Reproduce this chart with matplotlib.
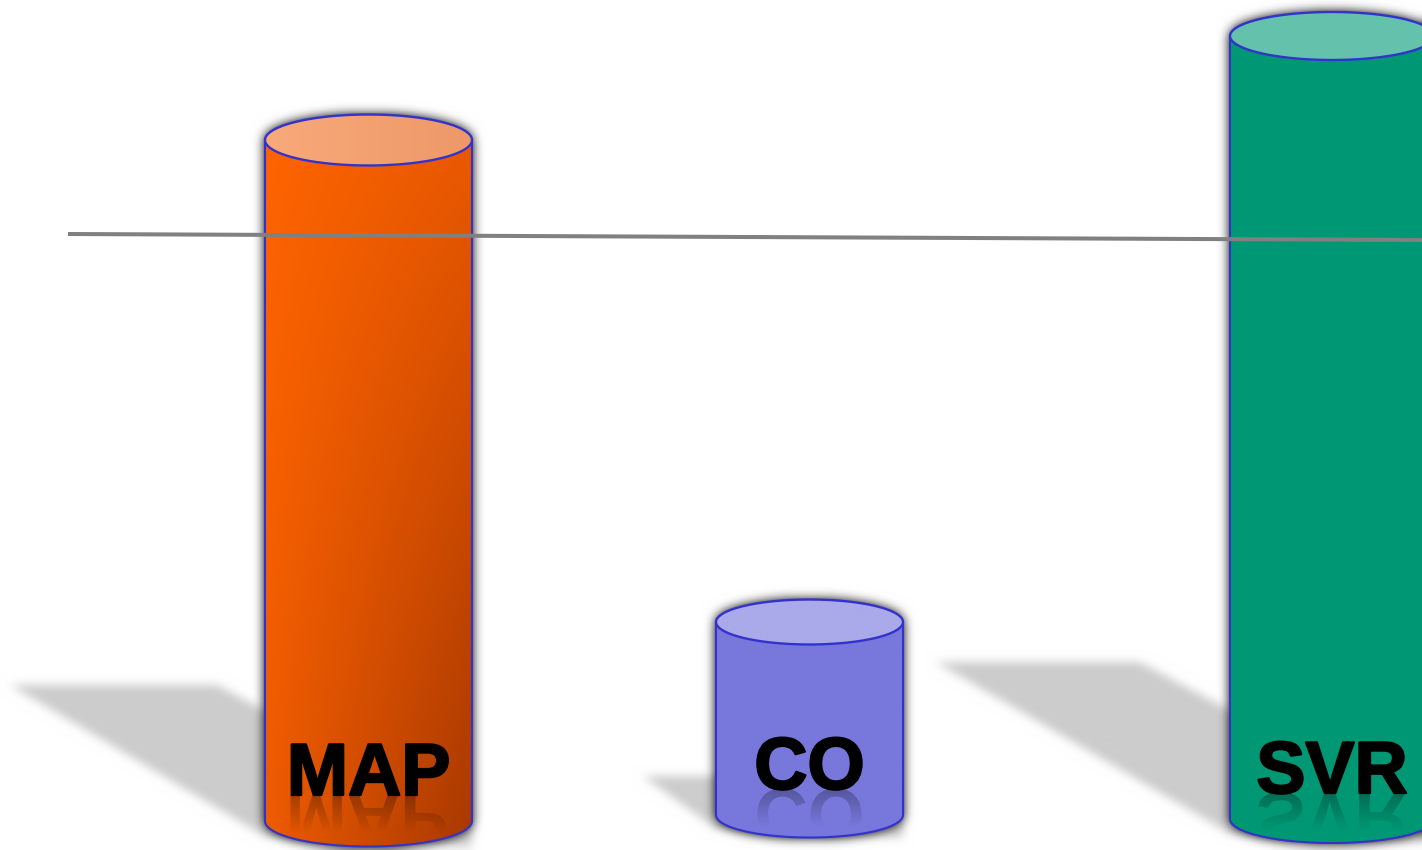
import numpy as np
import matplotlib
matplotlib.use('Agg')
import matplotlib.pyplot as plt
from matplotlib.path import Path
from matplotlib.patches import PathPatch
from matplotlib.textpath import TextPath
from matplotlib.font_manager import FontProperties
from matplotlib.transforms import Affine2D
from matplotlib.colors import to_rgb
import matplotlib.patheffects as pe

# bar data
categories = ['MAP', 'CO', 'SVR']
values = [681, 193, 783]
# reference line (two end points)
threshold_x = [68, 1422]
threshold_y = [586, 580]

# layout, in canvas units (1 unit = 1 px, y up, floor at 0)
centers = [368.5, 809.5, 1332]
half_w = [103.5, 93.5, 102]
depth = [25.5, 22.5, 24]      # y radius of the elliptic caps
floor = [-1, 5, 1]
body_left = ['#ff6400', '#7878dc', '#009874']
body_right = ['#a83800', '#7878dc', '#009874']
cap_left = ['#f8aa7a', '#aaaaea', '#64c2ac']
cap_right = ['#ee9868', '#aaaaea', '#64c2ac']
edge = '#3333cc'

W, H = 1422, 850
Y0, Y1 = -30, 820

fig = plt.figure(figsize=(W / 100, H / 100), dpi=100)
ax = fig.add_axes([0, 0, 1, 1])
ax.axis('off')

xs = np.arange(W) + 0.5
ys = Y1 - (np.arange(H) + 0.5)
XX, YY = np.meshgrid(xs, ys)
pts = np.column_stack([XX.ravel(), YY.ravel()])


def to_mask(path):
    return path.contains_points(pts).reshape(H, W).astype(float)


def box_blur(img, r, passes=3):
    for _ in range(passes):
        for axis in (0, 1):
            a = np.swapaxes(img, 0, axis)
            p = np.pad(a, [(r + 1, r), (0, 0)], mode='edge')
            c = np.cumsum(p, axis=0)
            a = (c[2 * r + 1:] - c[:-2 * r - 1]) / (2 * r + 1)
            img = np.swapaxes(a, 0, axis)
    return img


def body_path(cx, hw, ry, base, top):
    th = np.linspace(np.pi, 2 * np.pi, 80)
    arc = np.column_stack([cx + hw * np.cos(th), base + ry * np.sin(th)])
    verts = np.vstack([[cx - hw, top], arc, [cx + hw, top], [cx - hw, top]])
    return Path(verts)


def cap_path(cx, hw, ry, top):
    th = np.linspace(0, 2 * np.pi, 160)
    return Path(np.column_stack([cx + hw * np.cos(th), top + ry * np.sin(th)]))


def shadow_path(cx, hw, ry, base, h):
    s, v = 0.375 * h, 0.2 * h
    x0, x1 = cx - hw, cx + hw
    verts = [(x0 - s, base + v), (x0 - s + 2 * hw, base + v), (x1, base),
             (x1, base - ry), (x0, base - 0.6 * ry), (x0 - s, base + v)]
    return Path(verts)


# floor shadows and the soft halo round every cylinder
floor_m = np.zeros((H, W))
glow_m = np.zeros((H, W))
for cx, hw, ry, base, h in zip(centers, half_w, depth, floor, values):
    top = base + h
    floor_m = np.maximum(floor_m, to_mask(shadow_path(cx, hw, ry, base, h)))
    glow_m = np.maximum(glow_m, to_mask(body_path(cx, hw, ry, base, top)))
    glow_m = np.maximum(glow_m, to_mask(cap_path(cx, hw, ry, top)))
floor_m = box_blur(floor_m, 4)
glow_m = box_blur(glow_m, 5)
shade = (1 - 0.2 * floor_m) * (1 - np.clip(1.15 * glow_m, 0, 1))
bg = np.dstack([shade] * 3)
ax.imshow(bg, extent=(0, W, Y0, Y1), origin='upper', interpolation='nearest', zorder=0)


def gradient(c0, c1, nx, ny, mix):
    u = np.linspace(0, 1, nx)[None, :]
    d = np.linspace(0, 1, ny)[:, None]
    t = np.clip(mix(u, d), 0, 1)[..., None]
    return (1 - t) * np.array(to_rgb(c0)) + t * np.array(to_rgb(c1))


fp = FontProperties(family='Liberation Sans', weight='bold', size=53)
for i, label in enumerate(categories):
    cx, hw, ry, base = centers[i], half_w[i], depth[i], floor[i]
    top = base + values[i]

    # cylinder body
    bp = PathPatch(body_path(cx, hw, ry, base, top), facecolor='none',
                   edgecolor=edge, lw=1.5, zorder=3)
    ax.add_patch(bp)
    img = gradient(body_left[i], body_right[i], 200, 400,
                   lambda u, d: 0.25 * u + 0.2 * d + 0.55 * u * d)
    im = ax.imshow(img, extent=(cx - hw, cx + hw, base - ry, top), origin='upper',
                   interpolation='bilinear', zorder=2)
    im.set_clip_path(bp)

    # top cap
    cp = PathPatch(cap_path(cx, hw, ry, top), facecolor='none',
                   edgecolor=edge, lw=1.7, zorder=5)
    ax.add_patch(cp)
    img = gradient(cap_left[i], cap_right[i], 200, 50, lambda u, d: u)
    im = ax.imshow(img, extent=(cx - hw, cx + hw, top - ry, top + ry), origin='upper',
                   interpolation='bilinear', zorder=4)
    im.set_clip_path(cp)

    # label with a fading mirror image under it
    ty = base + 26
    ax.text(cx, ty, label, fontproperties=fp, ha='center', va='baseline',
            color='black', zorder=8,
            path_effects=[pe.Stroke(linewidth=1.6, foreground='black'), pe.Normal()])
    tp = TextPath((0, 0), label, size=53 * 100 / 72, prop=fp)
    ext = tp.get_extents()
    flip = Affine2D().scale(1, -1).translate(cx - (ext.x0 + ext.x1) / 2, ty)
    rp = PathPatch(tp, transform=flip + ax.transData)
    rh = 38
    refl = np.zeros((rh, 2, 4))
    refl[..., 3] = np.linspace(0.28, 0.0, rh)[:, None]
    im = ax.imshow(refl, extent=(cx - 130, cx + 130, ty - rh, ty), origin='upper',
                   interpolation='bilinear', zorder=7)
    im.set_clip_path(rp)

ax.plot(threshold_x, threshold_y, color='#808080', lw=2.9,
        solid_capstyle='butt', zorder=9)

ax.set_xlim(0, W)
ax.set_ylim(Y0, Y1)
ax.set_aspect('auto')
fig.savefig('out.png', dpi=100)
